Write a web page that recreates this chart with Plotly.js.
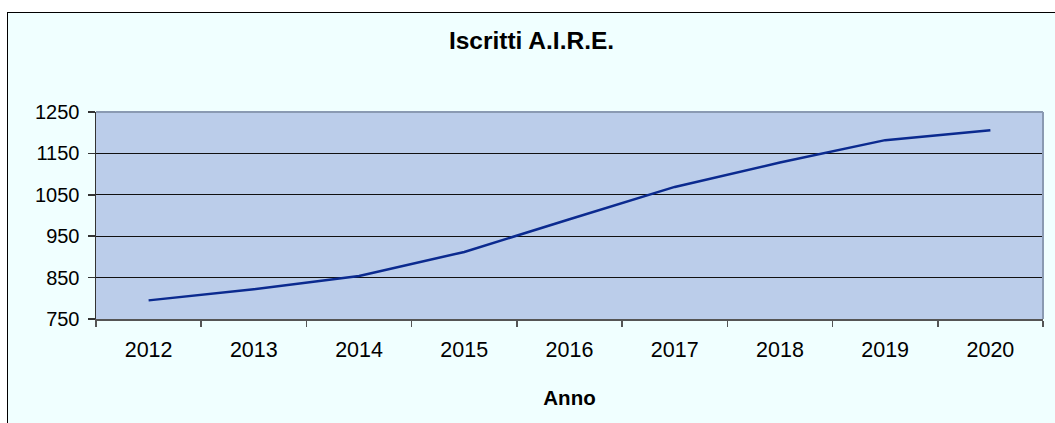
<!DOCTYPE html>
<html>
<head>
<meta charset="utf-8">
<script src="https://cdn.plot.ly/plotly-3.0.1.min.js"></script>
<style>
  html, body { margin: 0; padding: 0; background: #ffffff; width: 1055px; height: 423px; overflow: hidden; }
  #frame { position: absolute; left: 7px; top: 12px; width: 1047px; height: 410px;
           border-left: 1px solid #000; border-top: 1px solid #000; background: #F0FFFF; }
  #chart { width: 1047px; height: 410px; }
</style>
</head>
<body>
<div id="frame"><div id="chart"></div></div>
<script>
const chartTitle = "Iscritti A.I.R.E.";
const xTitle = "Anno";
const years = ["2012", "2013", "2014", "2015", "2016", "2017", "2018", "2019", "2020"];
const iscritti = [795, 822, 854, 912, 991, 1069, 1128, 1182, 1206];
const yTicks = [750, 850, 950, 1050, 1150, 1250];

const font = "Liberation Sans, Arial, Helvetica, sans-serif";

const trace = {
  type: "scatter",
  mode: "lines",
  x: years,
  y: iscritti,
  line: { color: "#0B2A8F", width: 2.5 },
  hoverinfo: "x+y"
};

const layout = {
  width: 1047,
  height: 410,
  margin: { l: 88, r: 12, t: 99, b: 104 },
  paper_bgcolor: "#F0FFFF",
  plot_bgcolor: "#BBCDEA",
  showlegend: false,
  font: { family: font, color: "#000", size: 20 },
  title: {
    text: "<b>" + chartTitle + "</b>",
    font: { family: font, size: 24.5, color: "#000" },
    x: 0.5, xanchor: "center",
    y: 0.932, yanchor: "middle", yref: "container"
  },
  xaxis: {
    type: "category",
    tickmode: "array",
    tickvals: years,
    ticktext: years,
    tickson: "boundaries",
    ticks: "outside",
    ticklen: 6,
    tickcolor: "#555",
    tickwidth: 1.5,
    ticklabelstandoff: 11,
    showgrid: false,
    showline: true,
    linecolor: "#555",
    linewidth: 1.5,
    tickfont: { family: font, size: 21.5, color: "#000" },
    range: [-0.5, 8.5],
    title: { text: "<b>" + xTitle + "</b>", font: { family: font, size: 20.5, color: "#000" }, standoff: 29 },
    automargin: false
  },
  yaxis: {
    range: [750, 1250],
    tickmode: "array",
    tickvals: yTicks,
    ticktext: yTicks.map(String),
    ticks: "outside",
    ticklen: 7,
    tickcolor: "#333",
    tickwidth: 1.5,
    ticklabelstandoff: 4,
    showgrid: true,
    gridcolor: "#111",
    gridwidth: 1,
    zeroline: false,
    showline: true,
    linecolor: "#333",
    linewidth: 1.5,
    tickfont: { family: font, size: 20, color: "#000" },
    automargin: false
  },
  shapes: [
    { type: "line", xref: "paper", yref: "paper", x0: 0, x1: 1, y0: 1, y1: 1,
      line: { color: "#8A9AB2", width: 2 } },
    { type: "line", xref: "paper", yref: "paper", x0: 1, x1: 1, y0: 0, y1: 1,
      line: { color: "#8A9AB2", width: 2 } }
  ]
};

Plotly.newPlot("chart", [trace], layout, { displayModeBar: false, staticPlot: true });
</script>
</body>
</html>
